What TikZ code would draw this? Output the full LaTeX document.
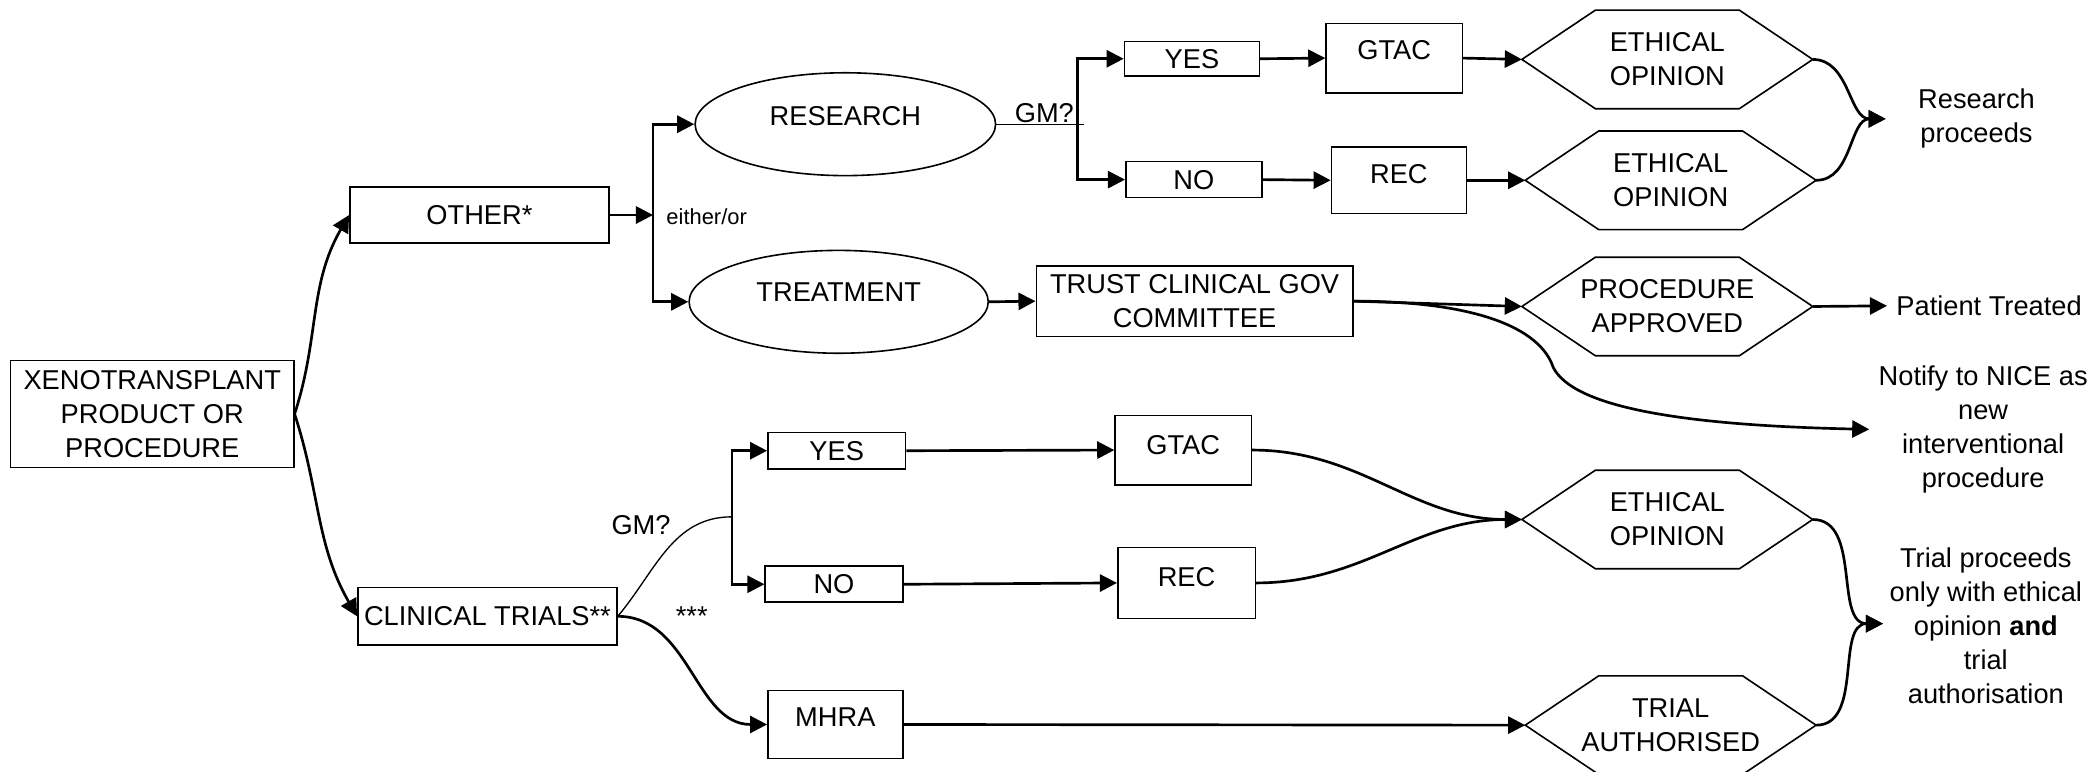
\documentclass[tikz,border=0pt]{standalone}
\usepackage{fontspec}
\setmainfont{Liberation Sans}
\usetikzlibrary{arrows.meta,shapes.geometric}
\begin{document}
\begin{tikzpicture}[x=0.5pt,y=-0.5pt,>={Triangle[length=6.4pt,width=6.4pt]},
            font=\fontsize{10.2}{12.7}\selectfont,
            box/.style={draw,line width=0.6pt,align=center,inner sep=1pt},
            oval/.style={draw,ellipse,line width=0.6pt,inner sep=0pt},
            hexa/.style={align=center,inner sep=0pt,minimum width=108.5pt,minimum height=36.5pt},
            flow/.style={->,line width=1pt},
            gmline/.style={line width=0.5pt}]
            \useasboundingbox (0,0) rectangle (1568,578);
            \node[box,minimum width=106pt,minimum height=40pt] (xeno) at (114,310) {XENOTRANSPLANT\\PRODUCT OR\\PROCEDURE};
            \node[box,minimum width=97pt,minimum height=21pt] (other) at (359,161) {OTHER*};
            \node[box,minimum width=97pt,minimum height=21.5pt] (trials) at (365,461.5) {CLINICAL TRIALS**};
            \node[oval,text depth=6pt,minimum width=112.5pt,minimum height=38.5pt] (research) at (633,93) {RESEARCH};
            \node[oval,text depth=7pt,minimum width=112pt,minimum height=38.5pt] (treat) at (628,226) {TREATMENT};
            \node[anchor=west,font=\fontsize{8.2}{10}\selectfont] (eitheror) at (492,162) {either/or};
            \node (gmR) at (782,85) {GM?};
            \node[box,minimum width=50.5pt,minimum height=13pt] (yesR) at (892.5,44) {YES};
            \node[box,minimum width=51pt,minimum height=13.5pt] (noR) at (894,134.5) {NO};
            \node[box,text depth=6pt,minimum width=51pt,minimum height=26pt] (gtacR) at (1044,43.5) {GTAC};
            \node[box,text depth=5pt,minimum width=50.5pt,minimum height=25pt] (recR) at (1047.5,135) {REC};
            \node[hexa] (ethR1) at (1248.5,44.5) {ETHICAL\\OPINION};
            \node[hexa] (ethR2) at (1251,135) {ETHICAL\\OPINION};
            \node[align=center] (proceeds) at (1480,88.5) {Research\\proceeds};
            \node[box,minimum width=118.5pt,minimum height=26.5pt] (trust) at (894.5,225.5) {TRUST CLINICAL GOV\\COMMITTEE};
            \node[hexa] (approved) at (1248.5,229.5) {PROCEDURE\\APPROVED};
            \node[anchor=west] (treated) at (1413,229) {Patient Treated};
            \node[align=center] (nice) at (1485,321.5) {Notify to NICE as\\new\\interventional\\procedure};
            \node (gmT) at (480,393) {GM?};
            \node (stars) at (518,461) {***};
            \node[box,minimum width=51.5pt,minimum height=13.5pt] (yesT) at (626.5,337.5) {YES};
            \node[box,minimum width=51.5pt,minimum height=13.5pt] (noT) at (624.5,437.5) {NO};
            \node[box,text depth=4pt,minimum width=51pt,minimum height=26pt] (gtacT) at (886,337) {GTAC};
            \node[box,text depth=4.5pt,minimum width=51.5pt,minimum height=26.5pt] (recT) at (888.5,436.5) {REC};
            \node[box,text depth=5.5pt,minimum width=50.5pt,minimum height=25.5pt] (mhra) at (625.5,542.5) {MHRA};
            \node[hexa] (ethT) at (1248.5,389) {ETHICAL\\OPINION};
            \node[hexa] (authorised) at (1251,543) {TRIAL\\AUTHORISED};
            \node[align=center] (trialgo) at (1487,468.5) {Trial proceeds\\only with ethical\\opinion \textbf{and}\\trial\\authorisation};
            \foreach \h in {ethR1,ethR2,approved,ethT,authorised}
                \draw[line width=0.6pt] (\h.west) -- ([xshift=27.5pt]\h.north west) -- ([xshift=-27.5pt]\h.north east)
                    -- (\h.east) -- ([xshift=-27.5pt]\h.south east) -- ([xshift=27.5pt]\h.south west) -- cycle;
            \coordinate (splitO) at (489,161);
            \coordinate (splitR) at (807,93);
            \coordinate (gmRend) at (812,93);
            \coordinate (tipR) at (1412,89);
            \coordinate (niceBend) at (1163,275);
            \coordinate (splitT) at (548,387);
            \coordinate (tipT) at (1410,467);
            \draw[flow] (xeno.east) to[out=72,in=240] (other.west);
            \draw[flow] (xeno.east) to[out=-72,in=120] (trials.west);
            \draw[flow] (other.east) -- (splitO);
            \draw[flow] (splitO) |- (research.west);
            \draw[flow] (splitO) |- (treat.west);
            \draw[gmline] (research.east) -- (gmRend);
            \draw[flow] (splitR) |- (yesR.west);
            \draw[flow] (splitR) |- (noR.west);
            \draw[flow] (yesR.east) -- (gtacR.west);
            \draw[flow] (noR.east) -- (recR.west);
            \draw[flow] (gtacR.east) -- (ethR1.west);
            \draw[flow] (recR.east) -- (ethR2.west);
            \draw[flow] (ethR1.east) to[out=0,in=180] (tipR);
            \draw[flow] (ethR2.east) to[out=0,in=180] (tipR);
            \draw[flow] (treat.east) -- (trust.west);
            \draw[flow] (trust.east) -- (approved.west);
            \draw[flow] (approved.east) -- (treated.west);
            \draw[flow] (trust.east) .. controls +(90,0) and +(-10,-30) .. (niceBend) .. controls +(15,30) and +(-140,-3) .. (nice.west);
            \draw[gmline] (trials.east) to[out=50,in=180] (splitT);
            \draw[flow] (splitT) |- (yesT.west);
            \draw[flow] (splitT) |- (noT.west);
            \draw[flow] (yesT.east) -- (gtacT.west);
            \draw[flow] (noT.east) -- (recT.west);
            \draw[flow] (gtacT.east) to[out=0,in=180] (ethT.west);
            \draw[flow] (recT.east) to[out=0,in=180] (ethT.west);
            \draw[flow] (trials.east) to[out=0,in=180] (mhra.west);
            \draw[flow] (mhra.east) -- (authorised.west);
            \draw[flow] (ethT.east) to[out=0,in=180] (tipT);
            \draw[flow] (authorised.east) to[out=0,in=180] (tipT);
\end{tikzpicture}
\end{document}
